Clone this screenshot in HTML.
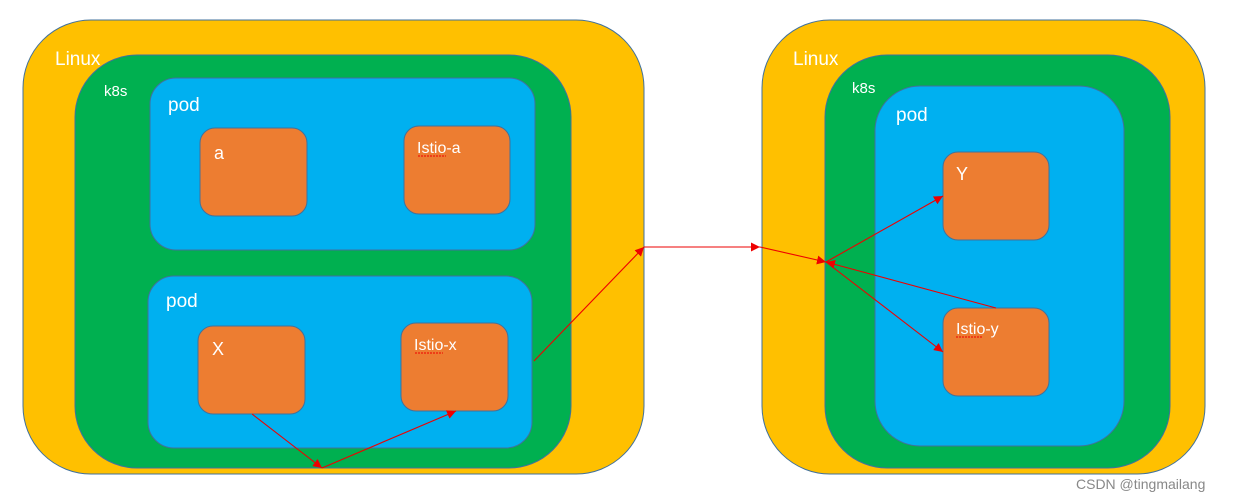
<!DOCTYPE html>
<html><head><meta charset="utf-8"><style>
html,body{margin:0;padding:0;background:#fff;}
svg{display:block;}
text{font-family:"Liberation Sans",sans-serif;fill:#fff;}
</style></head><body>
<svg width="1239" height="502" viewBox="0 0 1239 502" xmlns="http://www.w3.org/2000/svg">
<defs>
<marker id="ah" viewBox="0 0 10 10" refX="10" refY="5" markerWidth="9" markerHeight="9" markerUnits="userSpaceOnUse" orient="auto">
<path d="M0,0 L10,5 L0,10 z" fill="#e00"/>
</marker>
</defs>
<g stroke="#41719c" stroke-width="1">
<rect x="23" y="20" width="621" height="454" rx="68" fill="#ffc000"/>
<rect x="75" y="55" width="496" height="413" rx="62" fill="#00b050"/>
<rect x="150" y="78" width="385" height="172" rx="26" fill="#00b0f0"/>
<rect x="148" y="276" width="384" height="172" rx="26" fill="#00b0f0"/>
<rect x="200" y="128" width="107" height="88" rx="15" fill="#ed7d31"/>
<rect x="404" y="126" width="106" height="88" rx="15" fill="#ed7d31"/>
<rect x="198" y="326" width="107" height="88" rx="15" fill="#ed7d31"/>
<rect x="401" y="323" width="107" height="88" rx="15" fill="#ed7d31"/>

<rect x="762" y="20" width="443" height="454" rx="68" fill="#ffc000"/>
<rect x="825" y="55" width="345" height="413" rx="62" fill="#00b050"/>
<rect x="875" y="86" width="249" height="360" rx="45" fill="#00b0f0"/>
<rect x="943" y="152" width="106" height="88" rx="15" fill="#ed7d31"/>
<rect x="943" y="308" width="106" height="88" rx="15" fill="#ed7d31"/>
</g>
<text x="55" y="65" font-size="19">Linux</text>
<text x="104" y="96" font-size="15">k8s</text>
<text x="168" y="111" font-size="19">pod</text>
<text x="166" y="307" font-size="19">pod</text>
<text x="214" y="159" font-size="18">a</text>
<text x="417" y="153" font-size="16">Istio-a</text>
<text x="212" y="355" font-size="18">X</text>
<text x="414" y="350" font-size="16">Istio-x</text>
<text x="793" y="65" font-size="19">Linux</text>
<text x="852" y="93" font-size="15">k8s</text>
<text x="896" y="121" font-size="19">pod</text>
<text x="956" y="180" font-size="18">Y</text>
<text x="956" y="334" font-size="16">Istio-y</text>
<g stroke="#e00" stroke-width="1" stroke-dasharray="2,1" fill="none">
<path d="M418,156 h28 M415,353 h28 M956,337 h26"/>
</g>
<g stroke="#e00" stroke-width="1.1" fill="none" marker-end="url(#ah)">
<line x1="252" y1="414" x2="322" y2="468"/>
<line x1="322" y1="468" x2="456" y2="411"/>
<line x1="534" y1="361" x2="644" y2="247"/>
<line x1="644" y1="247" x2="760" y2="247"/>
<line x1="760" y1="247" x2="826" y2="262"/>
<line x1="826" y1="262" x2="943" y2="196"/>
<line x1="826" y1="262" x2="943" y2="352"/>
<line x1="996" y1="308" x2="826" y2="262"/>
</g>
<text x="1076" y="489" font-size="14" style="fill:#888">CSDN @tingmailang</text>
</svg>
</body></html>
